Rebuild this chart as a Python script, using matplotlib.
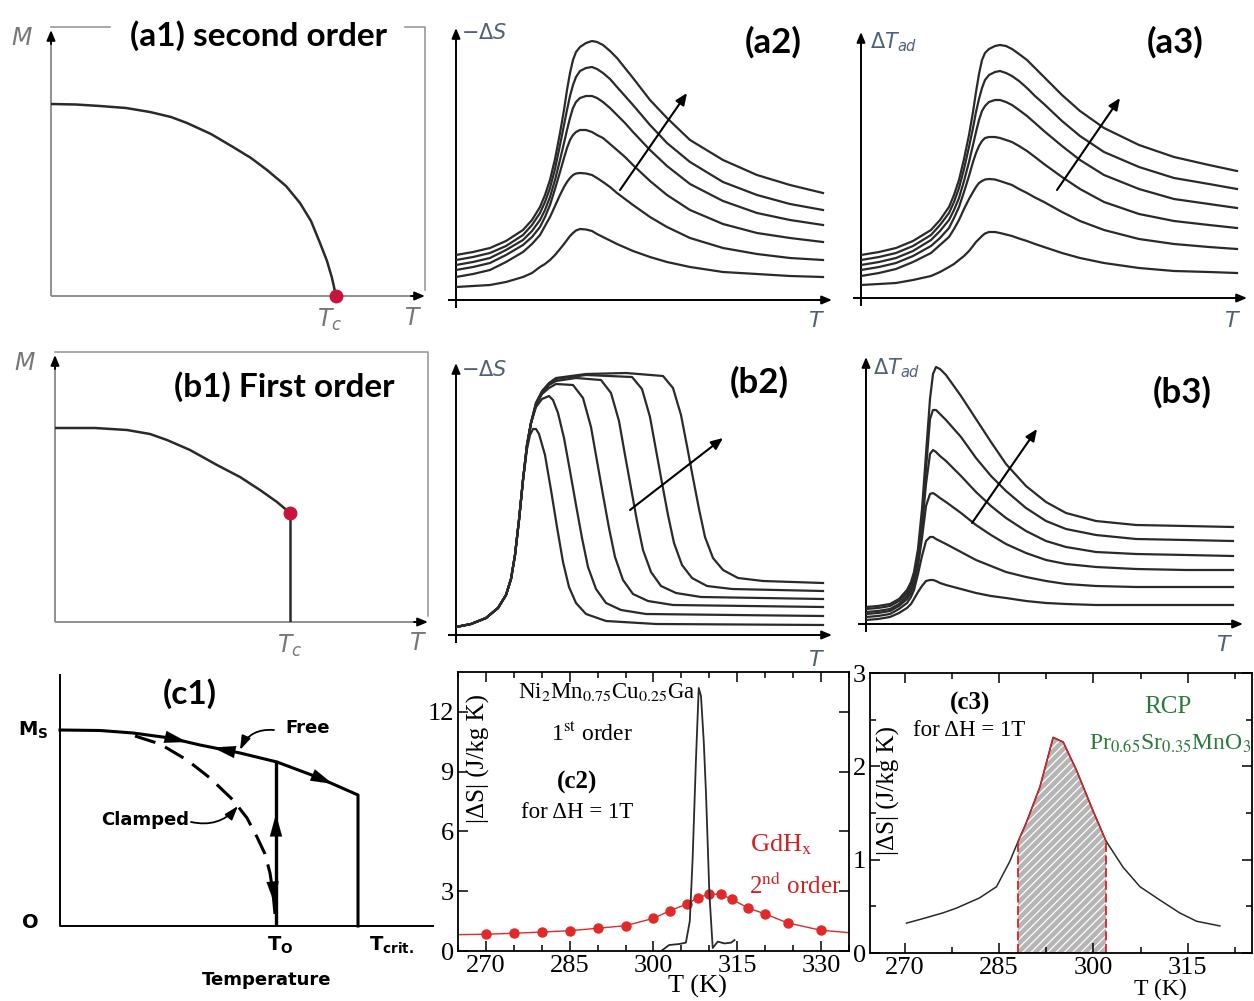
import matplotlib.pyplot as plt
import numpy as np

# ---------------- data ----------------
# (a1) / (b1) magnetisation sketches, arbitrary units
a1_T = [0, 25, 49, 75, 99, 120, 136, 160, 182, 200, 216, 235, 249, 260, 269, 276, 281, 285]
a1_M = [192, 191.5, 190, 188, 184, 179, 173, 162, 149, 138, 126, 110, 93, 75, 53, 35, 18, 0]

b1_T = [0, 40, 72, 95, 112, 135, 162, 185, 205, 222, 235]
b1_M = [194, 194, 192, 188, 182, 172, 157, 145, 132, 120, 109]

# (a2) -dS second order, six fields
a2_T = [0, 17, 34, 50, 67, 76, 84, 89, 94, 99, 104, 108, 111, 114, 117, 120, 124, 130, 136, 141,
        147, 154, 161, 169, 177, 194, 211, 234, 267, 301, 334, 367]
a2_S = [
    [45, 48, 52, 59, 70, 80, 93, 105, 120, 141, 167, 190, 210, 227, 240, 248, 253, 257, 259, 258,
     255, 249, 242, 232, 222, 200, 182, 160, 140, 125, 115, 107],
    [40, 43, 47, 54, 65, 75, 87, 98, 112, 131, 155, 175, 190, 204, 215, 223, 229, 232, 233, 231,
     227, 221, 213, 204, 195, 175, 157, 138, 118, 105, 96, 90],
    [35, 38, 42, 50, 60, 69, 80, 90, 103, 120, 140, 157, 170, 182, 192, 198, 202, 204, 204, 202,
     198, 192, 185, 177, 168, 150, 134, 116, 99, 87, 80, 75],
    [30, 33, 37, 45, 55, 63, 73, 83, 95, 111, 128, 142, 152, 160, 165, 168, 170, 170, 168, 165,
     162, 156, 150, 143, 135, 119, 105, 90, 76, 67, 62, 58],
    [23, 26, 30, 38, 48, 56, 65, 74, 83, 94, 105, 113, 118, 122, 125, 126.5, 127, 126.5, 125, 122,
     118, 113, 107, 101, 95, 83, 73, 62, 52, 46, 42, 40],
    [13, 14, 15, 18, 23, 27, 33, 36, 40, 45, 51, 56, 60, 64, 67, 69.5, 71, 70.5, 69, 66,
     63, 59.5, 56, 52.5, 49, 43, 38, 33, 28, 26, 24, 23],
]

# (a3) dT_ad second order
a3_T = [0, 18, 35, 52, 70, 79, 88, 93, 98, 103, 108, 112, 115, 118, 121, 124, 128, 134, 139, 145,
        151, 158, 166, 174, 183, 201, 219, 243, 278, 313, 348, 376]
a3_dT = [
    [43, 46, 50, 57, 68, 78, 91, 103, 118, 139, 163, 186, 206, 224, 238, 245, 249, 252, 253, 252,
     249, 244, 238, 230, 221, 203, 187, 170, 153, 141, 133, 127],
    [38, 41, 45, 52, 63, 73, 85, 96, 110, 129, 151, 170, 186, 199, 210, 218, 223, 226, 227, 225,
     222, 217, 210, 202, 194, 177, 162, 146, 131, 120, 114, 109],
    [33, 36, 40, 47, 58, 67, 78, 88, 100, 117, 136, 153, 166, 178, 187, 192, 196, 198, 198, 196,
     193, 188, 182, 175, 167, 152, 138, 123, 109, 99, 94, 90],
    [28, 31, 35, 42, 52, 60, 70, 80, 91, 106, 122, 136, 145, 152, 157, 160, 161, 161, 160, 158,
     156, 152, 147, 141, 134, 121, 109, 96, 84, 77, 73, 70],
    [22, 25, 29, 36, 45, 53, 61, 69, 78, 89, 99, 106, 111, 115, 117, 118.5, 119, 118.5, 117, 115,
     113, 109, 105, 100.5, 96, 86, 77, 68, 59, 54, 51, 49],
    [13, 14, 15, 18, 22, 26, 31, 34, 38, 42, 47, 52, 56, 59, 62, 64.5, 66, 66, 65, 63.5,
     62, 59.5, 57, 54, 51, 45, 40, 35, 30, 27, 26, 25],
]

# (b2) -dS first order
b2_T = [
    [0, 15, 30, 42, 50, 55, 59, 63, 67, 71, 74, 77, 80, 83, 89, 95, 101, 107, 113, 120, 130, 150, 200, 367],
    [0, 15, 30, 42, 50, 55, 59, 63, 67, 71, 75, 80, 86, 93, 97, 102, 108, 114, 120, 126, 132, 140, 150,
     165, 190, 367],
    [0, 15, 30, 42, 50, 55, 59, 63, 67, 71, 75, 80, 86, 93, 100, 117, 127, 135, 141, 147, 153, 159, 167,
     177, 192, 217, 367],
    [0, 15, 30, 42, 50, 55, 59, 63, 67, 71, 75, 80, 86, 93, 100, 120, 145, 155, 163, 169, 175, 181, 187,
     195, 205, 220, 245, 367],
    [0, 15, 30, 42, 50, 55, 59, 63, 67, 71, 75, 80, 86, 93, 100, 130, 176, 186, 194, 200, 206, 212, 218,
     226, 236, 251, 276, 367],
    [0, 15, 30, 42, 50, 55, 59, 63, 67, 71, 75, 80, 86, 93, 100, 130, 170, 207, 217, 225, 231, 237, 243,
     249, 257, 267, 282, 307, 367],
]
b2_S = [
    [8, 11, 17, 27, 40, 56, 80, 115, 155, 186, 200, 206, 206, 201, 180, 145, 108, 73, 48, 32, 21, 14, 11, 10],
    [8, 11, 17, 27, 40, 56, 80, 115, 155, 190, 212, 228, 236, 239, 235, 222, 197, 164, 130, 97, 68, 46, 32,
     25, 21, 19],
    [8, 11, 17, 27, 40, 56, 80, 115, 155, 190, 212, 230, 241, 247, 251, 250, 237, 208, 174, 140, 107, 78, 55,
     41, 34, 30, 28],
    [8, 11, 17, 27, 40, 56, 80, 115, 155, 190, 212, 231, 242, 250, 254, 257, 255, 242, 214, 180, 147, 114, 85,
     63, 49, 42, 38, 36],
    [8, 11, 17, 27, 40, 56, 80, 115, 155, 190, 212, 232, 243, 251, 256, 260, 258, 246, 218, 185, 152, 120, 92,
     70, 57, 49, 46, 44],
    [8, 11, 17, 27, 40, 56, 80, 115, 155, 190, 212, 232, 244, 252, 257, 261, 262, 259, 247, 220, 189, 157, 126,
     98, 77, 65, 57, 54, 52],
]

# (b3) dT_ad first order
b3_T = [0, 12, 24, 33, 41, 45, 48, 52, 56, 60, 64, 67, 70, 74, 80, 95, 110, 125, 140, 160, 180, 200,
        230, 270, 320, 367]
b3_dT = [
    [17, 18, 20, 25, 34, 42, 52, 75, 115, 170, 225, 250, 257, 255, 249, 228, 205, 182, 160, 138, 122, 111,
     103, 99, 98, 97],
    [15, 16, 18, 23, 31, 38, 48, 70, 105, 155, 205, 214, 214, 210, 204, 187, 166, 148, 133, 116, 103, 95,
     89, 85, 84, 83],
    [12, 13, 15, 20, 28, 35, 44, 64, 96, 140, 170, 174, 172, 168, 163, 148, 132, 118, 106, 93, 83, 77,
     72, 70, 69, 68],
    [10, 11, 13, 18, 25, 31, 40, 58, 86, 118, 130, 131, 129, 126, 122, 111, 99, 89, 80, 71, 64, 60,
     57, 55, 54, 54],
    [7, 8, 10, 15, 21, 27, 34, 50, 68, 83, 87, 87, 85, 83, 80, 72, 64, 58, 52, 47, 43, 40,
     38, 37, 37, 37],
    [4, 5, 7, 11, 16, 20, 25, 32, 38, 43, 44, 44, 43, 41, 39, 35, 31, 28, 26, 23, 21, 20,
     19, 19, 19, 19],
]

# (c1) free / clamped magnetisation
c1_free_T = [0, 40, 73, 110, 140, 180, 217, 257, 298, 298]
c1_free_M = [196, 195.5, 193, 188, 181, 173, 164, 149, 131, 0]
c1_T0 = 216
c1_clamp_T = [75, 100, 127, 150, 173, 187, 197, 205, 210, 213, 215]
c1_clamp_M = [190, 182, 166, 148, 126, 108, 89, 72, 53, 33, 12]

# (c2) measured |dS| for dH = 1 T
c2_T_gd = [265, 270, 275, 280, 285, 290, 295, 300, 303, 306, 308, 310, 312, 314, 317, 320, 324, 330, 335]
c2_S_gd = [0.82, 0.84, 0.89, 0.95, 1.02, 1.14, 1.27, 1.64, 2.03, 2.36, 2.68, 2.85, 2.85, 2.60, 2.15, 1.86,
           1.41, 1.04, 0.92]
c2_T_ni = [301.6, 302.8, 304.6, 305.8, 306.5, 307.0, 307.6, 308.1, 308.5, 309.0, 309.4, 310.0, 310.6,
           311.5, 312.7, 313.9, 314.5]
c2_S_ni = [0.05, 0.30, 0.35, 0.42, 1.5, 4.6, 9.6, 13.2, 12.8, 10.5, 7.9, 2.9, 0.15, 0.47, 0.38, 0.42, 0.55]

# (c3) Pr0.65Sr0.35MnO3 and its RCP window
c3_T = [270.3, 273, 276.1, 278.2, 281.9, 284.6, 286.7, 288.0, 289.3, 291.5, 293.6, 295.2, 297.3,
        299.9, 302.0, 304.7, 307.4, 310.5, 313.7, 316.4, 320.1]
c3_S = [0.32, 0.37, 0.43, 0.48, 0.59, 0.71, 0.98, 1.19, 1.39, 1.78, 2.31, 2.26, 1.96,
        1.53, 1.20, 0.92, 0.71, 0.57, 0.43, 0.34, 0.29]
c3_rcp = [288.0, 302.0]

c2_xticks = [270, 285, 300, 315, 330]
c2_yticks = [0, 3, 6, 9, 12]
c3_xticks = [270, 285, 300, 315]
c3_yticks = [0, 1, 2, 3]

# ---------------- figure ----------------
plt.rcParams['hatch.linewidth'] = 0.9
W, H = 1254, 1001
fig = plt.figure(figsize=(W / 100, H / 100), dpi=100)

SERIF = 'Liberation Serif'
INK = '#2a2a2a'
LBL = '#52607a'


def add_px_axes(x0, y0, x1, y1):
    return fig.add_axes([x0 / W, 1 - y1 / H, (x1 - x0) / W, (y1 - y0) / H])


def ftext(x, y, s, **kw):
    kw.setdefault('ha', 'center')
    kw.setdefault('va', 'center')
    fig.text(x / W, 1 - y / H, s, **kw)


def head(ax, xy, xytext, color='black', style='-|>,head_length=0.6,head_width=0.25', lw=1.2, ms=10):
    ax.annotate('', xy=xy, xytext=xytext,
                arrowprops=dict(arrowstyle=style, color=color, lw=lw, shrinkA=0, shrinkB=0,
                                mutation_scale=ms),
                annotation_clip=False)


def sketch(x0, y0, x1, y1, line='black', over=8, lw=1.4):
    ax = add_px_axes(x0, y0, x1, y1)
    w, h = x1 - x0, y1 - y0
    ax.set_xlim(0, w)
    ax.set_ylim(0, h)
    ax.axis('off')
    ax.plot([-over, w - 6], [0, 0], color=line, lw=lw, clip_on=False, solid_capstyle='butt')
    ax.plot([0, 0], [-over, h - 6], color=line, lw=lw, clip_on=False, solid_capstyle='butt')
    head(ax, (w, 0), (w - 14, 0), lw=lw)
    head(ax, (0, h), (0, h - 14), lw=lw)
    return ax


def title(x, y, s, size=24):
    ftext(x, y, s, family='Lato', weight='bold', size=size, color='black')


# (a1) second order M(T)
ax = sketch(51, 30, 425, 296, line='#8f8f8f', over=0)
ax.plot(a1_T, a1_M, color=INK, lw=1.8)
ax.plot(a1_T[-1], a1_M[-1], 'o', color='#c8143c', ms=9, clip_on=False, zorder=5)
ax.plot([0, 59], [269, 269], color='#9a9a9a', lw=1.2, clip_on=False)
ax.plot([354, 374, 374], [269, 269, 6], color='#9a9a9a', lw=1.2, clip_on=False)
title(258, 36, '(a1) second order', 24)
ftext(22, 38, r'$M$', size=17, color='#777777')
ftext(330, 320, r'$T_c$', size=17, color='#777777')
ftext(413, 318, r'$T$', size=17, color='#777777')

# (b1) first order M(T)
ax = sketch(55, 355, 428, 622, line='#8f8f8f', over=0)
ax.plot(b1_T, b1_M, color=INK, lw=1.8)
ax.plot([b1_T[-1], b1_T[-1]], [b1_M[-1], 0], color=INK, lw=1.8)
ax.plot(b1_T[-1], b1_M[-1], 'o', color='#c8143c', ms=9, zorder=5)
ax.plot([0, 373, 373], [270, 270, 6], color='#9a9a9a', lw=1.2, clip_on=False)
title(284, 387, '(b1) First order', 24)
ftext(25, 363, r'$M$', size=17, color='#777777')
ftext(290, 646, r'$T_c$', size=17, color='#777777')
ftext(418, 643, r'$T$', size=17, color='#777777')

AS = '-|>,head_length=0.7,head_width=0.3'

# (a2)
ax = sketch(456, 28, 832, 300)
for s in a2_S:
    ax.plot(a2_T, s, color=INK, lw=1.6)
head(ax, (231, 207), (164, 110), style=AS, lw=1.5)
title(773, 42, '(a2)', 25)
ftext(484, 33, r'$-\Delta S$', size=15, color=LBL)
ftext(817, 321, r'$T$', size=16, color=LBL)

# (a3)
ax = sketch(861, 32, 1247, 298)
for s in a3_dT:
    ax.plot(a3_T, s, color=INK, lw=1.6)
head(ax, (259, 200), (196, 108), style=AS, lw=1.5)
title(1175, 42, '(a3)', 25)
ftext(894, 42, r'$\Delta T_{ad}$', size=15, color=LBL)
ftext(1233, 321, r'$T$', size=16, color=LBL)

# (b2)
ax = sketch(456, 363, 832, 635)
for t, s in zip(b2_T, b2_S):
    ax.plot(t, s, color=INK, lw=1.6)
head(ax, (267, 197), (174, 125), style=AS, lw=1.5)
title(759, 382, '(b2)', 25)
ftext(484, 370, r'$-\Delta S$', size=15, color=LBL)
ftext(817, 660, r'$T$', size=16, color=LBL)

# (b3)
ax = sketch(866, 357, 1243, 624)
for s in b3_dT:
    ax.plot(b3_T, s, color=INK, lw=1.6)
head(ax, (171, 195), (106, 101), style=AS, lw=1.5)
title(1182, 392, '(b3)', 25)
ftext(897, 368, r'$\Delta T_{ad}$', size=15, color=LBL)
ftext(1225, 645, r'$T$', size=16, color=LBL)

# (c1) free vs clamped
ax = add_px_axes(60, 675, 433, 926)
ax.set_xlim(0, 373)
ax.set_ylim(0, 251)
ax.axis('off')
ax.plot([0, 0, 373], [251, 0, 0], color='black', lw=1.4, clip_on=False)
ax.plot(c1_free_T, c1_free_M, color='black', lw=2.2, clip_on=False)
t0_top = np.interp(c1_T0, c1_free_T[:-1], c1_free_M[:-1])
ax.plot([c1_T0, c1_T0], [0, t0_top], color='black', lw=2.4)
ax.plot(c1_clamp_T, c1_clamp_M, color='black', lw=2.2, ls=(0, (7, 3.5)))
hs = '-|>,head_length=0.8,head_width=0.22'
ft, fm = c1_free_T[:-1], c1_free_M[:-1]
for xa, d in [(127, 1), (153, -1), (273, 1)]:
    head(ax, (xa, np.interp(xa, ft, fm)), (xa - 8 * d, np.interp(xa - 8 * d, ft, fm)),
         style=hs, lw=0.1, ms=20)
head(ax, (c1_T0, 112), (c1_T0, 98), style=hs, lw=0.1, ms=20)
head(ax, (c1_clamp_T[-1] - 0.5, 22), (c1_clamp_T[-2], 40), style=hs, lw=0.1, ms=20)
ax.annotate('', xy=(180, 176), xytext=(214, 196),
            arrowprops=dict(arrowstyle='-|>,head_length=0.6,head_width=0.2', color='black', lw=1.3,
                            connectionstyle='arc3,rad=0.35', shrinkA=0, shrinkB=0, mutation_scale=14))
ax.annotate('', xy=(178, 120), xytext=(131, 104),
            arrowprops=dict(arrowstyle='-|>,head_length=0.6,head_width=0.2', color='black', lw=1.3,
                            connectionstyle='arc3,rad=0.3', shrinkA=0, shrinkB=0, mutation_scale=14))
ftext(308, 728, 'Free', family='DejaVu Sans', weight='bold', size=13)
ftext(145, 820, 'Clamped', family='DejaVu Sans', weight='bold', size=13)
ftext(33, 730, r'$\mathbf{M_S}$', size=14, math_fontfamily='dejavusans')
ftext(30, 922, 'O', family='DejaVu Sans', weight='bold', size=14)
ftext(280, 945, r'$\mathbf{T_O}$', size=14, math_fontfamily='dejavusans')
ftext(392, 945, r'$\mathbf{T_{crit.}}$', size=14, math_fontfamily='dejavusans')
ftext(267, 980, 'Temperature', family='DejaVu Sans', weight='bold', size=13)
title(190, 694, '(c1)', 24)


def serif_axes(ax, xt, yt, xminor):
    ax.set_xticks(xt)
    ax.set_xticklabels([str(v) for v in xt], family=SERIF, size=19)
    ax.set_yticks(yt)
    ax.set_yticklabels([str(v) for v in yt], family=SERIF, size=19)
    ax.set_xticks(xminor, minor=True)
    ax.tick_params(which='both', direction='in', top=True, right=True, width=1.1)
    ax.tick_params(which='major', length=7, pad=3)
    ax.tick_params(which='minor', length=4)
    for sp in ax.spines.values():
        sp.set_linewidth(1.3)


# (c2)
ax = add_px_axes(458, 672, 849, 951)
ax.plot(c2_T_gd, c2_S_gd, color='#e02a2a', lw=1.0, marker='o', ms=6.5,
        markevery=slice(1, len(c2_T_gd) - 1))
ax.plot(c2_T_ni, c2_S_ni, color=INK, lw=1.3)
ax.set_xlim(265, 335)
ax.set_ylim(0, 14)
serif_axes(ax, c2_xticks, c2_yticks, np.arange(265, 336, 5))
ax.text(0.052, 0.69, '|ΔS| (J/kg K)', transform=ax.transAxes, rotation=90,
        ha='center', va='center', family=SERIF, size=18)
ftext(607, 692, r'Ni$_2$Mn$_{0.75}$Cu$_{0.25}$Ga', family=SERIF, size=16.5, math_fontfamily='stix')
ftext(592, 734, r'1$^{\rm st}$ order', family=SERIF, size=17, math_fontfamily='stix')
ftext(577, 782, '(c2)', family=SERIF, weight='bold', size=18)
ftext(577, 812, 'for ΔH = 1T', family=SERIF, size=16.5)
ftext(781, 845, r'GdH$_{\rm x}$', family=SERIF, size=19, color='#d42222', math_fontfamily='stix')
ftext(795, 886, r'2$^{\rm nd}$ order', family=SERIF, size=18, color='#d42222', math_fontfamily='stix')
ftext(697, 986, 'T (K)', family=SERIF, size=19)

# (c3)
ax = add_px_axes(870, 673, 1252, 953)
T3 = np.array(c3_T)
S3 = np.array(c3_S)
win = (T3 >= c3_rcp[0]) & (T3 <= c3_rcp[1])
ax.fill_between(T3[win], S3[win], color='#b5b5b5', hatch='////', edgecolor='white', lw=0)
ax.plot(T3, S3, color=INK, lw=1.1)
ax.plot(T3[win], S3[win], color='#e02020', lw=1.0)
ax.vlines(c3_rcp, 0, S3[win][[0, -1]], colors='#e02020', linestyles=(0, (5, 2)), lw=1.3)
ax.plot(c3_rcp, [0, 0], color='#e02020', lw=1.2)
ax.set_xlim(264.5, 325.2)
ax.set_ylim(0, 3)
serif_axes(ax, c3_xticks, c3_yticks, np.arange(270, 325, 7.5))
ax.set_yticks(np.arange(0, 3.01, 0.5), minor=True)
ax.text(0.047, 0.58, '|ΔS| (J/kg K)', transform=ax.transAxes, rotation=90,
        ha='center', va='center', family=SERIF, size=18)
ftext(970, 703, '(c3)', family=SERIF, weight='bold', size=18)
ftext(969, 730, 'for ΔH = 1T', family=SERIF, size=16.5)
GREEN = '#2a7a3a'
ftext(1168, 707, 'RCP', family=SERIF, size=18, color=GREEN)
ftext(1170, 744, r'Pr$_{0.65}$Sr$_{0.35}$MnO$_3$', family=SERIF, size=17, color=GREEN,
      math_fontfamily='stix')
ftext(1160, 989, 'T (K)', family=SERIF, size=17)

fig.savefig('out.png', dpi=100)
